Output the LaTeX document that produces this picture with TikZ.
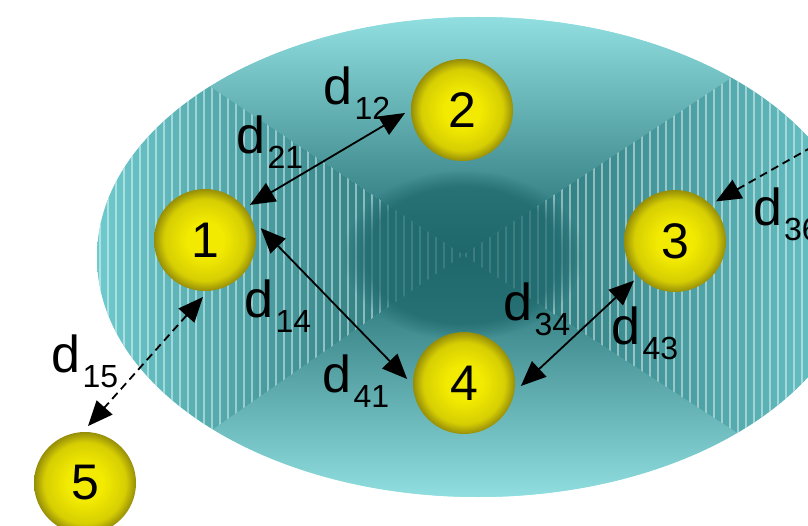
\documentclass[tikz,border=0pt]{standalone}
\usepackage{fontspec}
\setmainfont{Liberation Sans}
\usetikzlibrary{arrows.meta,fadings}
\definecolor{tealdark}{RGB}{30,104,108}
\definecolor{tealmid}{RGB}{76,182,186}
\definecolor{teallight}{RGB}{144,222,224}
\definecolor{ballin}{RGB}{242,234,0}
\definecolor{ballout}{RGB}{150,142,8}
\pgfdeclareradialshading{ballshade}{\pgfpointorigin}{color(0bp)=(ballin); color(9bp)=(ballin); color(20bp)=(ballin!70!ballout); color(25bp)=(ballout); color(50bp)=(ballout)}
\tikzset{wedge/.tip={Triangle[length=25pt,width=21pt]}, ball/.style={circle,shade,shading=ballshade,minimum size=102pt,inner sep=0pt,outer sep=6pt,font=\fontsize{50}{50}\selectfont}, link/.style={draw=black,line width=1.8pt,wedge-wedge}, farlink/.style={link,dash pattern=on 8pt off 5pt}, dlabel/.style={inner sep=0pt,font=\fontsize{52}{52}\selectfont}}
\newcommand{\dsub}[1]{d\kern2pt\raisebox{-15pt}{\fontsize{32}{32}\selectfont#1}}

\begin{document}
\begin{tikzpicture}[x=1pt,y=-1pt]
\clip (0,0) rectangle (808,526);
\coordinate (core) at (463,255);
% the basin
\begin{scope}
\clip (478,257) ellipse (381 and 240);
\fill[teallight] (0,0) rectangle (900,526);
\begin{scope}
\clip (core) -- (-280,-240) -- (1240,-258) -- cycle;
\shade[top color=teallight,middle color=tealmid,bottom color=tealdark] (0,18) rectangle (900,257);
\end{scope}
\begin{scope}
\clip (core) -- (-260,759) -- (1240,759) -- cycle;
\shade[top color=tealdark,middle color=tealmid,bottom color=teallight] (0,253) rectangle (900,497);
\end{scope}
\begin{scope}
\clip (core) -- (-280,-240) -- (-260,759) -- cycle;
\shade[left color=tealmid!50!teallight,right color=tealdark] (97,0) rectangle (463,526);
\foreach \x in {100,108,...,460} \draw[white,opacity=.45,line width=1.6pt] (\x,0) -- (\x,526);
\end{scope}
\begin{scope}
\clip (core) -- (1240,-258) -- (1240,759) -- cycle;
\shade[left color=tealdark,right color=tealmid!50!teallight] (463,0) rectangle (859,526);
\foreach \x in {466,474,...,860} \draw[white,opacity=.45,line width=1.6pt] (\x,0) -- (\x,526);
\end{scope}
\fill[tealdark,opacity=.7,path fading=circle with fuzzy edge 20 percent] (core) ellipse (120 and 85);
\end{scope}
% the balls
\node[ball] (n1) at (205,240) {1};
\node[ball] (n2) at (462,110) {2};
\node[ball] (n3) at (675,241) {3};
\node[ball] (n4) at (464,383) {4};
\node[ball] (n5) at (85,483) {5};
\coordinate (off6) at (900,97);
\draw[link] (n1.38) -- (n2.183);
\draw[link] (n1.12) -- (n4.176);
\draw[link] (n3.224) -- (n4.-3);
\draw[farlink] (n1.268) -- (n5.87);
\draw[farlink,wedge-] (n3.44) -- (off6);
% the distances
\node[dlabel] (l12) at (357,93) {\dsub{12}};
\node[dlabel] (l21) at (270,142) {\dsub{21}};
\node[dlabel] (l14) at (278,306) {\dsub{14}};
\node[dlabel] (l41) at (356,381) {\dsub{41}};
\node[dlabel] (l34) at (537,309) {\dsub{34}};
\node[dlabel] (l43) at (645,333) {\dsub{43}};
\node[dlabel] (l15) at (85,361) {\dsub{15}};
\node[dlabel,anchor=west] (l36) at (753,214) {\dsub{36}};
\end{tikzpicture}
\end{document}
